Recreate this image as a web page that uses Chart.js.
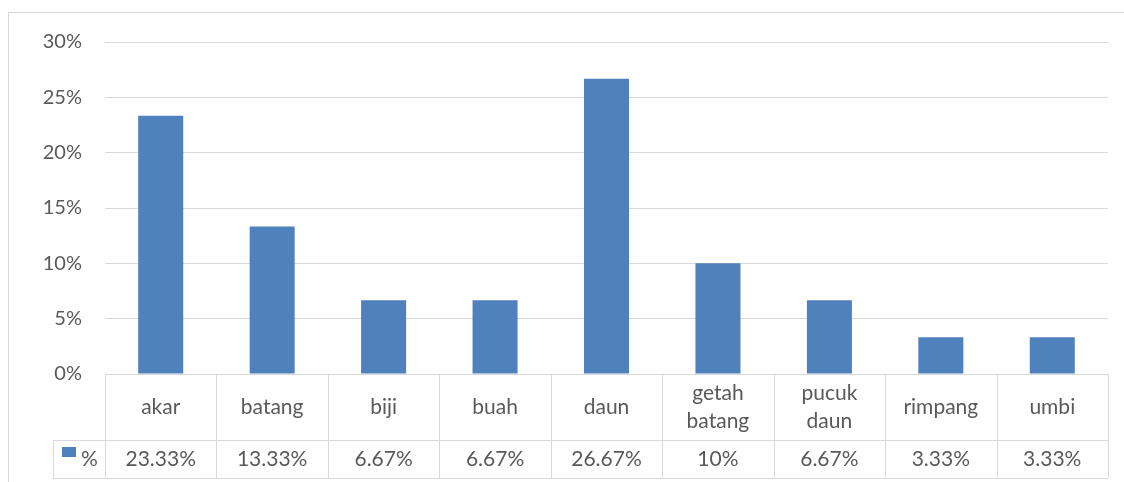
<!DOCTYPE html>
<html>
<head>
<meta charset="utf-8">
<script src="https://cdn.jsdelivr.net/npm/chart.js@4"></script>
<style>
  body { margin: 0; background: #fff; }
  #wrap { position: relative; width: 1124px; height: 482px; overflow: hidden; }
  #frame { position: absolute; left: 8px; top: 12px; width: 1140px; height: 520px; border: 1px solid #d9d9d9; }
  canvas { position: absolute; left: 0; top: 0; }
</style>
</head>
<body>
<div id="wrap">
  <div id="frame"></div>
  <canvas id="chart" width="1124" height="482"></canvas>
</div>
<script>
// === データ ===
const categories = [["akar"], ["batang"], ["biji"], ["buah"], ["daun"], ["getah", "batang"], ["pucuk", "daun"], ["rimpang"], ["umbi"]];
const values = [23.33, 13.33, 6.67, 6.67, 26.67, 10, 6.67, 3.33, 3.33];
const seriesName = "%";
const yTicks = [0, 5, 10, 15, 20, 25, 30];

const FONT = "Lato, 'Open Sans', sans-serif";
const TEXT = "#595959";
const GRID = "#d9d9d9";
const BAR = "#4f81bd";

const fmt = v => (Math.round(v * 100) / 100).toString() + "%";

// === データテーブル（グラフ下） ===
const dataTable = {
  id: "dataTable",
  afterDraw(chart) {
    const { ctx, chartArea } = chart;
    const left = chartArea.left, right = chartArea.right;
    const top = chartArea.bottom, mid = top + 66, bot = top + 104;
    const legLeft = 53;
    const n = categories.length;
    const colW = (right - left) / n;
    const px = v => Math.round(v) + 0.5;

    ctx.save();
    ctx.strokeStyle = GRID;
    ctx.lineWidth = 1;
    ctx.beginPath();
    ctx.moveTo(left, px(top)); ctx.lineTo(right, px(top));
    ctx.moveTo(legLeft, px(mid)); ctx.lineTo(right, px(mid));
    ctx.moveTo(legLeft, px(bot)); ctx.lineTo(right, px(bot));
    for (let i = 0; i <= n; i++) {
      const x = px(left + i * colW);
      ctx.moveTo(x, top); ctx.lineTo(x, bot);
    }
    ctx.moveTo(px(legLeft), mid); ctx.lineTo(px(legLeft), bot);
    ctx.stroke();

    ctx.fillStyle = TEXT;
    ctx.font = "21px " + FONT;
    ctx.textAlign = "center";
    ctx.textBaseline = "middle";
    const lh = 28;
    categories.forEach((lines, i) => {
      const cx = left + (i + 0.5) * colW;
      const cy = (top + mid) / 2 - (lines.length - 1) * lh / 2;
      lines.forEach((s, j) => ctx.fillText(s, cx, cy + j * lh));
      ctx.fillText(fmt(values[i]), cx, (mid + bot) / 2);
    });

    // 凡例キー
    ctx.fillStyle = BAR;
    ctx.fillRect(62, mid + 7, 14, 10);
    ctx.fillStyle = TEXT;
    ctx.textAlign = "left";
    ctx.fillText(seriesName, 81, (mid + bot) / 2);
    ctx.restore();
  }
};

new Chart(document.getElementById("chart"), {
  type: "bar",
  data: {
    labels: categories.map(c => c.join(" ")),
    datasets: [{
      label: seriesName,
      data: values,
      backgroundColor: BAR,
      barPercentage: 1,
      categoryPercentage: 0.404
    }]
  },
  options: {
    responsive: false,
    animation: false,
    layout: { padding: { top: 42, bottom: 108, right: 16, left: 0 } },
    plugins: { legend: { display: false }, tooltip: { enabled: false } },
    scales: {
      x: { display: false },
      y: {
        min: 0, max: 30,
        afterFit: s => { s.width = 105; },
        afterBuildTicks: s => { s.ticks = yTicks.map(v => ({ value: v })); },
        border: { display: false },
        grid: { color: GRID, lineWidth: 1, drawTicks: false },
        ticks: {
          padding: 23,
          color: TEXT,
          font: { family: FONT, size: 20 },
          callback: v => v + "%"
        }
      }
    }
  },
  plugins: [dataTable]
});
</script>
</body>
</html>
